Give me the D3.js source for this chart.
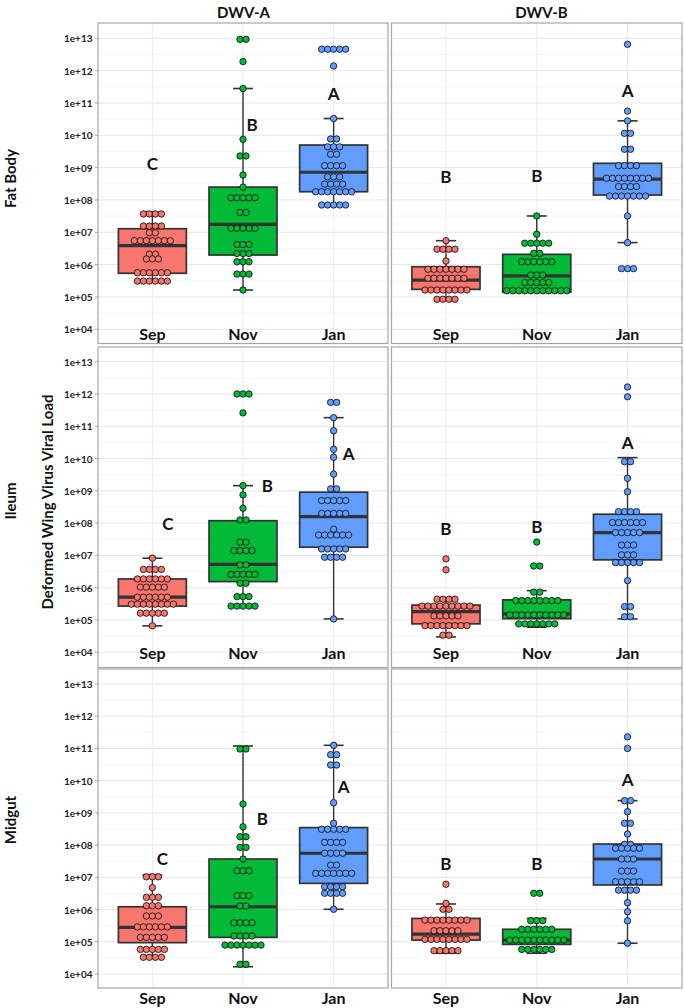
<!DOCTYPE html>
<html><head><meta charset="utf-8">
<script src="https://cdn.jsdelivr.net/npm/d3@7"></script>
<style>
body{margin:0;background:#fff}
svg{display:block}
text{font-family:Lato,"Open Sans",sans-serif;font-weight:bold;fill:#111}
</style></head>
<body><svg id="c" width="685" height="1008"></svg>
<script>
// ---------- DATA ----------
const months = ["Sep", "Nov", "Jan"];
const viruses = ["DWV-A", "DWV-B"];
const tissues = ["Fat Body", "Ileum", "Midgut"];
const tickValues = [1e4, 1e5, 1e6, 1e7, 1e8, 1e9, 1e10, 1e11, 1e12, 1e13];
const tickLabels = ["1e+04","1e+05","1e+06","1e+07","1e+08","1e+09","1e+10","1e+11","1e+12","1e+13"];
const monthColors = ["#F8766D", "#00BA38", "#619CFF"];

// dot bins: [viral load, number of bees stacked in that bin] for Sep, Nov, Jan
const fatBodyA_dots = [
  [[3.7e7,4],[1.56e7,4],[9.7e6,2],[5.5e6,7],[2.1e6,2],[1.5e6,3],[5.6e5,6],[3.1e5,6]],
  [[9.3e12,2],[1.9e12,1],[2.8e11,1],[7.5e9,1],[2.3e9,2],[5.9e8,1],[2.5e8,1],[1.17e8,5],[4.1e7,2],[1.33e7,5],[4.2e6,3],[2.2e6,3],[1.23e6,3],[5.1e5,3],[1.64e5,1]],
  [[4.6e12,5],[1.4e12,1],[3.3e10,1],[7.7e9,2],[4.4e9,3],[2.6e9,2],[1.15e9,4],[5.2e8,3],[3.1e8,4],[1.8e8,7],[7.0e7,5]]
];
const fatBodyB_dots = [
  [[5.5e6,1],[3.0e6,4],[1.29e6,1],[7.2e5,7],[3.8e5,7],[1.64e5,8],[8.5e4,4]],
  [[3.2e7,1],[8.7e6,1],[4.6e6,5],[2.24e6,2],[1.23e6,6],[4.8e5,3],[2.8e5,5],[1.56e5,11]],
  [[6.5e12,1],[5.6e10,1],[2.8e10,1],[1.15e10,2],[3.7e9,2],[1.15e9,4],[4.7e8,8],[2.6e8,4],[1.32e8,7],[3.2e7,1],[4.8e6,1],[7.5e5,3]]
];
const ileumA_dots = [
  [[8.2e6,1],[3.7e6,4],[1.87e6,6],[1.04e6,5],[5.1e5,6],[3.1e5,8],[1.63e5,5],[6.6e4,1]],
  [[1e12,3],[2.6e11,1],[1.45e9,1],[7.5e8,1],[2.9e8,1],[1.26e8,2],[2.56e7,2],[1.41e7,4],[5.1e6,2],[2.6e6,5],[1.38e6,2],[5.3e5,3],[2.7e5,5]],
  [[5.5e11,2],[1.85e11,1],[7.3e10,1],[1.94e10,1],[1.1e10,1],[3.3e9,1],[1.15e9,2],[5.0e8,5],[2.0e8,5],[6.5e7,1],[4.3e7,6],[1.59e7,5],[8.8e6,4],[1.08e5,1]]
];
const ileumB_dots = [
  [[7.8e6,1],[3.6e6,1],[4.4e5,4],[2.7e5,9],[1.34e5,5],[6.7e4,8],[3.4e4,2]],
  [[2.6e7,1],[4.7e6,2],[7.3e5,2],[4.0e5,8],[1.44e5,10],[7.6e4,7]],
  [[1.65e12,1],[8.2e11,1],[8.0e9,2],[2.45e9,1],[9.4e8,1],[2.27e8,4],[1.04e8,6],[5.1e7,5],[2.1e7,3],[1.04e7,3],[6.0e6,5],[1.66e6,1],[2.6e5,2],[1.27e5,2]]
];
const midgutA_dots = [
  [[1.04e7,3],[4.8e6,1],[2.4e6,3],[1.31e6,3],[6.3e5,3],[2.9e5,6],[1.37e5,5],[5.8e4,5],[3.3e4,4]],
  [[9.6e10,2],[1.89e9,1],[3.7e8,1],[1.82e8,2],[8.5e7,2],[3.7e7,1],[1.6e7,3],[2.7e6,3],[1.29e6,2],[3.9e5,4],[1.51e5,4],[7.9e4,7],[2.0e4,2]],
  [[1.25e11,1],[6.4e10,2],[3.06e10,2],[2.07e9,1],[4.75e8,1],[3.1e8,5],[1.22e8,4],[5.6e7,4],[2.4e7,2],[1.33e7,7],[5.1e6,4],[3.2e6,4],[1.02e6,1]]
];
const midgutB_dots = [
  [[6.1e6,1],[1.56e6,1],[1.02e6,2],[4.7e5,8],[2.2e5,5],[1.19e5,8],[5.3e4,5]],
  [[3.2e6,2],[4.5e5,3],[2.44e5,6],[1.13e5,10],[5.8e4,6]],
  [[2.3e11,1],[1.0e11,1],[2.4e9,2],[1.09e9,1],[4.75e8,2],[2.2e8,1],[1.06e8,2],[8.0e7,5],[3.7e7,3],[1.57e7,3],[7.3e6,5],[4.0e6,4],[1.63e6,1],[8.6e5,1],[4.5e5,1],[9.0e4,1]]
];

// box stats: [whisker low, Q1, median, Q3, whisker high] for Sep, Nov, Jan
const fatBodyA_box = [[3.1e5,5.4e5,3.85e6,1.29e7,4.2e7],[1.64e5,1.98e6,1.77e7,2.5e8,2.8e11],[7.0e7,1.8e8,7.2e8,5.0e9,3.3e10]];
const fatBodyB_box = [[8.5e4,1.72e5,3.3e5,8.6e5,5.5e6],[1.39e5,1.39e5,4.5e5,2.08e6,3.2e7],[4.8e6,1.42e8,4.4e8,1.36e9,2.8e10]];
const ileumA_box   = [[6.6e4,2.7e5,5.1e5,1.87e6,8.2e6],[2.7e5,1.55e6,5.3e6,1.19e8,1.45e9],[1.08e5,1.8e7,1.59e8,9.1e8,1.85e11]];
const ileumB_box   = [[3.0e4,7.6e4,1.82e5,2.9e5,4.9e5],[6.0e4,1.1e5,1.55e5,4.2e5,8.1e5],[1.08e5,7.3e6,5.1e7,1.89e8,1.07e10]];
const midgutA_box  = [[3.3e4,9.4e4,2.8e5,1.22e6,1.18e7],[1.68e4,1.37e5,1.22e6,3.7e7,1.19e11],[1.02e6,6.5e6,5.6e7,3.5e8,1.25e11]];
const midgutB_box  = [[4.4e4,1.13e5,1.74e5,5.3e5,1.49e6],[4.4e4,8.3e4,1.13e5,2.44e5,5.3e5],[9.0e4,5.8e6,3.7e7,1.08e8,2.4e9]];

// significance letters and the level they sit at
const fatBodyA_letters = [["C",1.3e9],["B",2.1e10],["A",1.9e11]];
const fatBodyB_letters = [["B",5.2e8],["B",5.8e8],["A",2.4e11]];
const ileumA_letters   = [["C",9.9e7],["B",1.5e9],["A",1.46e10]];
const ileumB_letters   = [["B",7.0e7],["B",7.7e7],["A",3.1e10]];
const midgutA_letters  = [["C",3.9e7],["B",6.5e8],["A",6.5e9]];
const midgutB_letters  = [["B",2.6e7],["B",2.7e7],["A",1.1e10]];

// ---------- LAYOUT ----------
const colX = [[98, 388], [391.5, 682]];
const rowLayout = [
  {top: 23,  bottom: 343.5, y13: 38.3,  y4: 329.3, labelY: 340},
  {top: 347, bottom: 667.5, y13: 361.7, y4: 652.3, labelY: 658.5},
  {top: 669, bottom: 988,   y13: 684,   y4: 974,   labelY: 1004}
];
const letterDx = [[[0,9,0],[0,0,0]], [[15.6,24.4,15],[0,0,0]], [[10,19.4,10],[0,0,0]]];
const panels = [
  {r:0,c:0,dots:fatBodyA_dots,box:fatBodyA_box,letters:fatBodyA_letters},
  {r:0,c:1,dots:fatBodyB_dots,box:fatBodyB_box,letters:fatBodyB_letters},
  {r:1,c:0,dots:ileumA_dots,box:ileumA_box,letters:ileumA_letters},
  {r:1,c:1,dots:ileumB_dots,box:ileumB_box,letters:ileumB_letters},
  {r:2,c:0,dots:midgutA_dots,box:midgutA_box,letters:midgutA_letters},
  {r:2,c:1,dots:midgutB_dots,box:midgutB_box,letters:midgutB_letters}
];

const svg = d3.select("#c");
const dotD = 6.0, dotR = 3.2, capW = 20, ink = "#333333";

panels.forEach(p => {
  const L = rowLayout[p.r], [x0, x1] = colX[p.c];
  const x = d3.scalePoint().domain(months).range([x0, x1]).padding(0.6);
  const y = d3.scaleLog().domain([1e4, 1e13]).range([L.y4, L.y13]);
  const bw = x.step() * 0.75;
  const g = svg.append("g");
  g.append("rect").attr("x", x0).attr("y", L.top).attr("width", x1 - x0).attr("height", L.bottom - L.top).attr("fill", "#fff");
  // grid
  const minor = d3.range(4, 13).map(k => Math.pow(10, k + 0.5));
  g.selectAll(".mi").data(minor).join("line")
    .attr("x1", x0).attr("x2", x1).attr("y1", d => y(d)).attr("y2", d => y(d))
    .attr("stroke", "#f2f2f2").attr("stroke-width", 0.8);
  g.selectAll(".ma").data(tickValues).join("line")
    .attr("x1", x0).attr("x2", x1).attr("y1", d => y(d)).attr("y2", d => y(d))
    .attr("stroke", "#e6e6e6").attr("stroke-width", 1);
  g.selectAll(".vg").data(months).join("line")
    .attr("x1", d => x(d)).attr("x2", d => x(d)).attr("y1", L.top).attr("y2", L.bottom)
    .attr("stroke", "#ececec").attr("stroke-width", 1);

  months.forEach((m, i) => {
    const cx = x(m), [lo, q1, med, q3, hi] = p.box[i], col = monthColors[i];
    g.append("line").attr("x1", cx).attr("x2", cx).attr("y1", y(lo)).attr("y2", y(hi))
      .attr("stroke", ink).attr("stroke-width", 1.4);
    [lo, hi].forEach(v => g.append("line").attr("x1", cx - capW/2).attr("x2", cx + capW/2)
      .attr("y1", y(v)).attr("y2", y(v)).attr("stroke", ink).attr("stroke-width", 1.6));
    g.append("rect").attr("x", cx - bw/2).attr("width", bw).attr("y", y(q3)).attr("height", y(q1) - y(q3))
      .attr("fill", col).attr("stroke", ink).attr("stroke-width", 1.7);
    g.append("line").attr("x1", cx - bw/2).attr("x2", cx + bw/2).attr("y1", y(med)).attr("y2", y(med))
      .attr("stroke", ink).attr("stroke-width", 3.2);
    const pts = [];
    p.dots[i].forEach(([v, n]) => { for (let k = 0; k < n; k++) pts.push({v, off: (k - (n - 1) / 2) * dotD}); });
    g.selectAll(null).data(pts).join("circle")
      .attr("cx", d => cx + d.off).attr("cy", d => y(d.v)).attr("r", dotR)
      .attr("fill", col).attr("stroke", "#111").attr("stroke-width", 0.85);
    const [lt, lv] = p.letters[i];
    g.append("text").attr("x", cx + letterDx[p.r][p.c][i]).attr("y", y(lv))
      .attr("text-anchor", "middle").attr("dominant-baseline", "central")
      .style("font-size", "17px").text(lt);
    g.append("text").attr("x", cx).attr("y", L.labelY).attr("text-anchor", "middle")
      .style("font-size", "16px").text(m);
  });
  g.append("rect").attr("x", x0).attr("y", L.top).attr("width", x1 - x0).attr("height", L.bottom - L.top)
    .attr("fill", "none").attr("stroke", "#a6a6a6").attr("stroke-width", 1.2);

  if (p.c === 0) {
    const ax = svg.append("g");
    ax.selectAll("line").data(tickValues).join("line")
      .attr("x1", x0 - 3).attr("x2", x0).attr("y1", d => y(d)).attr("y2", d => y(d))
      .attr("stroke", "#a6a6a6").attr("stroke-width", 1);
    ax.selectAll("text").data(tickValues).join("text")
      .attr("x", x0 - 5.5).attr("y", d => y(d)).attr("text-anchor", "end").attr("dominant-baseline", "central")
      .style("font-size", "10px").style("fill", "#222").text((d, i) => tickLabels[i]);
  }
});

// strip titles
const titleX = [243.5, 541.5];
viruses.forEach((v, i) => svg.append("text").attr("x", titleX[i]).attr("y", 11.5)
  .attr("text-anchor", "middle").attr("dominant-baseline", "central").style("font-size", "15px").text(v));
// row labels
const rowLabelY = [178.5, 501, 820];
tissues.forEach((t, i) => svg.append("text")
  .attr("transform", `translate(9.5,${rowLabelY[i]}) rotate(-90)`)
  .attr("text-anchor", "middle").attr("dominant-baseline", "central").style("font-size", "15px").text(t));
svg.append("text").attr("transform", "translate(46.5,502) rotate(-90)")
  .attr("text-anchor", "middle").attr("dominant-baseline", "central").style("font-size", "15px")
  .text("Deformed Wing Virus Viral Load");
</script></body></html>
